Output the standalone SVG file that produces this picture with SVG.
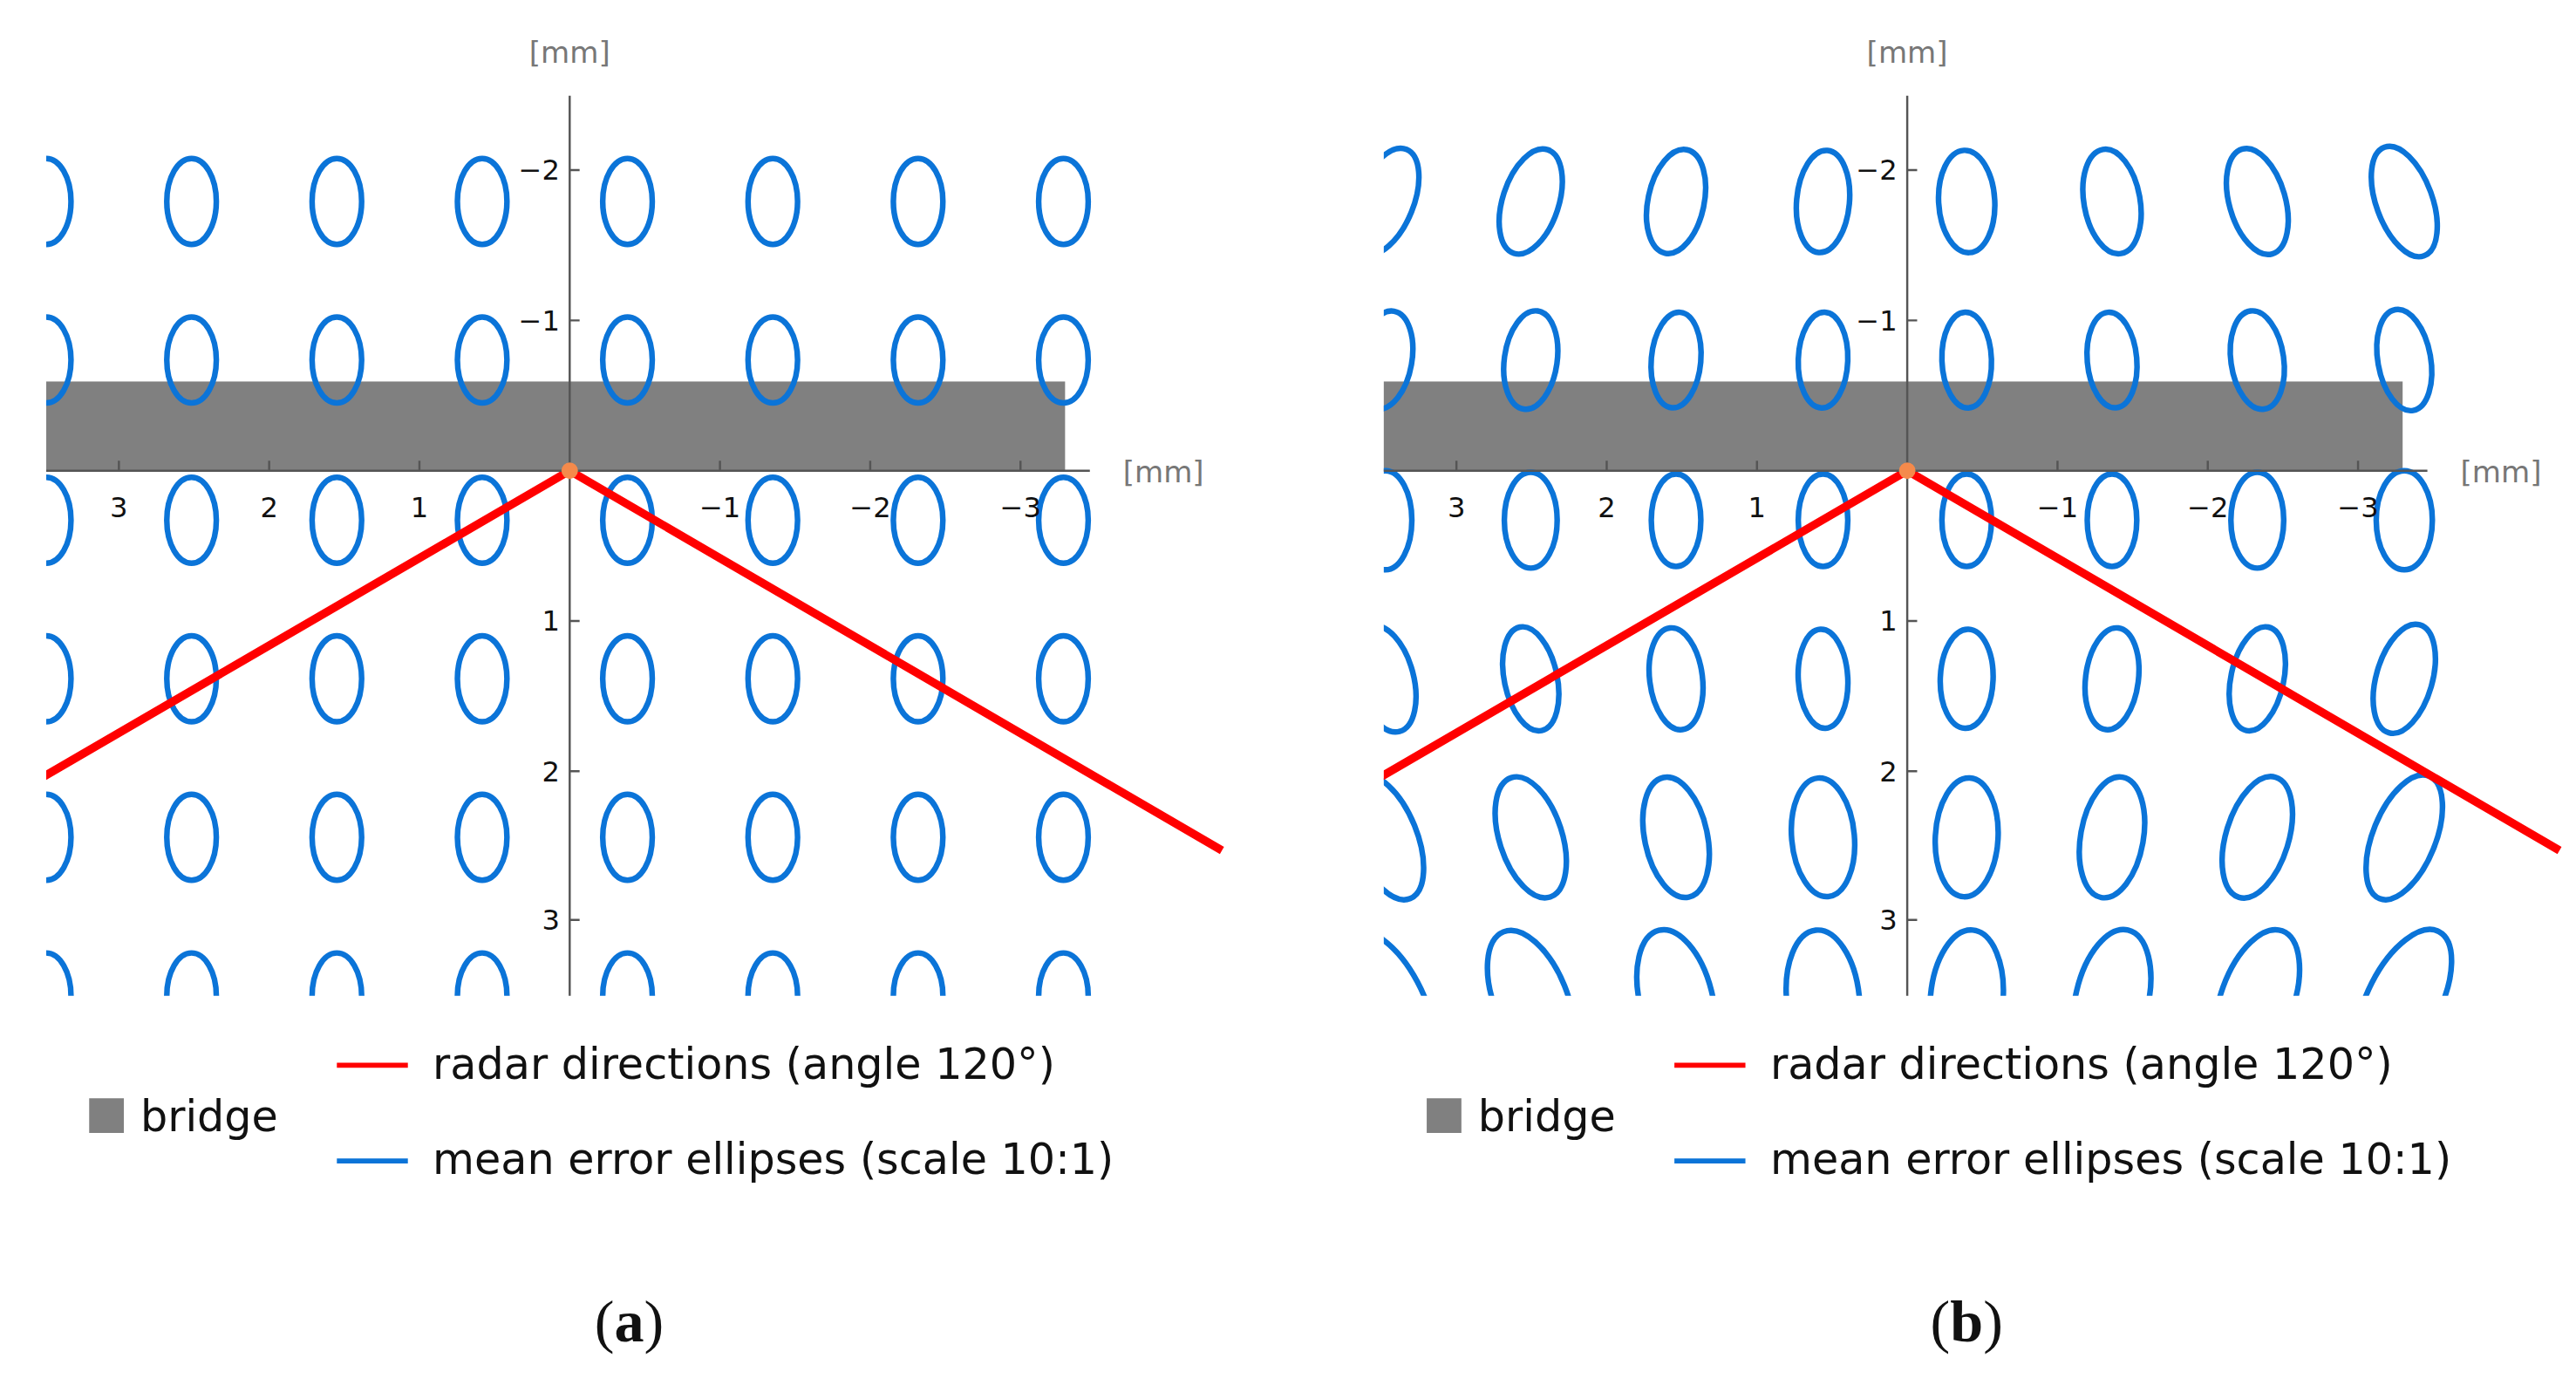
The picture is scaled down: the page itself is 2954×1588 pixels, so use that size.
<svg xmlns="http://www.w3.org/2000/svg" width="2954" height="1588" viewBox="0 0 2954 1588">
<style>
.e{fill:none;stroke:#0b74d8;stroke-width:3.4}
.ax{stroke:#555;stroke-width:1.3;fill:none}
.tk{font-family:"DejaVu Sans",sans-serif;font-size:17px;fill:#111}
.un{font-family:"DejaVu Sans",sans-serif;font-size:18px;fill:#777}
.lg{font-family:"DejaVu Sans",sans-serif;font-size:26px;fill:#111}
.cap{font-family:"Liberation Serif",serif;font-size:36px;fill:#111}
.rd{stroke:#ff0000;stroke-width:5;fill:none}
</style>
<defs>
<clipPath id="ca"><rect x="28" y="58" width="800" height="545"/></clipPath>
<clipPath id="cb"><rect x="838" y="58" width="800" height="545"/></clipPath>
</defs>
<rect width="2954" height="1588" fill="#fff"/>
<g transform="scale(1.8936)">
<g id="panel-a">
<rect x="28" y="231" width="617" height="54" fill="#808080"/>
<g clip-path="url(#ca)">
<g id="ellipses-a">
<g transform="translate(0,122)"><ellipse class="e" cx="28" cy="0" rx="15" ry="26"/><ellipse class="e" cx="116" cy="0" rx="15" ry="26"/><ellipse class="e" cx="204" cy="0" rx="15" ry="26"/><ellipse class="e" cx="292" cy="0" rx="15" ry="26"/><ellipse class="e" cx="380" cy="0" rx="15" ry="26"/><ellipse class="e" cx="468" cy="0" rx="15" ry="26"/><ellipse class="e" cx="556" cy="0" rx="15" ry="26"/><ellipse class="e" cx="644" cy="0" rx="15" ry="26"/></g>
<g transform="translate(0,218)"><ellipse class="e" cx="28" cy="0" rx="15" ry="26"/><ellipse class="e" cx="116" cy="0" rx="15" ry="26"/><ellipse class="e" cx="204" cy="0" rx="15" ry="26"/><ellipse class="e" cx="292" cy="0" rx="15" ry="26"/><ellipse class="e" cx="380" cy="0" rx="15" ry="26"/><ellipse class="e" cx="468" cy="0" rx="15" ry="26"/><ellipse class="e" cx="556" cy="0" rx="15" ry="26"/><ellipse class="e" cx="644" cy="0" rx="15" ry="26"/></g>
<g transform="translate(0,315)"><ellipse class="e" cx="28" cy="0" rx="15" ry="26"/><ellipse class="e" cx="116" cy="0" rx="15" ry="26"/><ellipse class="e" cx="204" cy="0" rx="15" ry="26"/><ellipse class="e" cx="292" cy="0" rx="15" ry="26"/><ellipse class="e" cx="380" cy="0" rx="15" ry="26"/><ellipse class="e" cx="468" cy="0" rx="15" ry="26"/><ellipse class="e" cx="556" cy="0" rx="15" ry="26"/><ellipse class="e" cx="644" cy="0" rx="15" ry="26"/></g>
<g transform="translate(0,411)"><ellipse class="e" cx="28" cy="0" rx="15" ry="26"/><ellipse class="e" cx="116" cy="0" rx="15" ry="26"/><ellipse class="e" cx="204" cy="0" rx="15" ry="26"/><ellipse class="e" cx="292" cy="0" rx="15" ry="26"/><ellipse class="e" cx="380" cy="0" rx="15" ry="26"/><ellipse class="e" cx="468" cy="0" rx="15" ry="26"/><ellipse class="e" cx="556" cy="0" rx="15" ry="26"/><ellipse class="e" cx="644" cy="0" rx="15" ry="26"/></g>
<g transform="translate(0,507)"><ellipse class="e" cx="28" cy="0" rx="15" ry="26"/><ellipse class="e" cx="116" cy="0" rx="15" ry="26"/><ellipse class="e" cx="204" cy="0" rx="15" ry="26"/><ellipse class="e" cx="292" cy="0" rx="15" ry="26"/><ellipse class="e" cx="380" cy="0" rx="15" ry="26"/><ellipse class="e" cx="468" cy="0" rx="15" ry="26"/><ellipse class="e" cx="556" cy="0" rx="15" ry="26"/><ellipse class="e" cx="644" cy="0" rx="15" ry="26"/></g>
<g transform="translate(0,603)"><ellipse class="e" cx="28" cy="0" rx="15" ry="26"/><ellipse class="e" cx="116" cy="0" rx="15" ry="26"/><ellipse class="e" cx="204" cy="0" rx="15" ry="26"/><ellipse class="e" cx="292" cy="0" rx="15" ry="26"/><ellipse class="e" cx="380" cy="0" rx="15" ry="26"/><ellipse class="e" cx="468" cy="0" rx="15" ry="26"/><ellipse class="e" cx="556" cy="0" rx="15" ry="26"/><ellipse class="e" cx="644" cy="0" rx="15" ry="26"/></g>
</g>
<path class="rd" d="M20,474 L345,285 L740,515"/>
</g>
<path class="ax" d="M345,58 V603 M28,285 H660 M72,285 v-6 M163,285 v-6 M254,285 v-6 M436,285 v-6 M527,285 v-6 M618,285 v-6 M345,103 h6 M345,194 h6 M345,376 h6 M345,467 h6 M345,557 h6"/>
<circle cx="345" cy="285" r="5" fill="#f58a4b"/>
<g class="tk" text-anchor="middle"><text x="72" y="313">3</text><text x="163" y="313">2</text><text x="254" y="313">1</text><text x="436" y="313">−1</text><text x="527" y="313">−2</text><text x="618" y="313">−3</text></g>
<g class="tk" text-anchor="end"><text x="339" y="109">−2</text><text x="339" y="200">−1</text><text x="339" y="382">1</text><text x="339" y="473">2</text><text x="339" y="563">3</text></g>
<text class="un" x="345" y="38" text-anchor="middle">[mm]</text>
<text class="un" x="680" y="292">[mm]</text>
<g id="legend-a">
<rect x="54" y="665" width="21" height="21" fill="#808080"/>
<text class="lg" x="85" y="685">bridge</text>
<line x1="204" y1="645" x2="247" y2="645" stroke="#ff0000" stroke-width="3"/>
<text class="lg" x="262" y="653">radar directions (angle 120°)</text>
<line x1="204" y1="703" x2="247" y2="703" stroke="#0b74d8" stroke-width="3"/>
<text class="lg" x="262" y="711">mean error ellipses (scale 10:1)</text>
</g>
<text class="cap" x="381" y="812" text-anchor="middle">(<tspan font-weight="bold">a</tspan>)</text>
</g>
<g id="panel-b">
<rect x="838" y="231" width="617" height="54" fill="#808080"/>
<g clip-path="url(#cb)">
<g id="ellipses-b">
<g transform="translate(0,122)"><ellipse class="e" transform="translate(839,0) rotate(22)" rx="17" ry="34"/><ellipse class="e" transform="translate(927,0) rotate(18)" rx="17" ry="33"/><ellipse class="e" transform="translate(1015,0) rotate(12)" rx="17" ry="32"/><ellipse class="e" transform="translate(1104,0) rotate(5)" rx="16" ry="31"/><ellipse class="e" transform="translate(1191,0) rotate(-3)" rx="17" ry="31"/><ellipse class="e" transform="translate(1279,0) rotate(-10)" rx="17" ry="32"/><ellipse class="e" transform="translate(1367,0) rotate(-16)" rx="17" ry="33"/><ellipse class="e" transform="translate(1456,0) rotate(-20)" rx="17" ry="35"/></g>
<g transform="translate(0,218)"><ellipse class="e" transform="translate(839,0) rotate(10)" rx="16" ry="30"/><ellipse class="e" transform="translate(927,0) rotate(8)" rx="16" ry="30"/><ellipse class="e" transform="translate(1015,0) rotate(5)" rx="15" ry="29"/><ellipse class="e" transform="translate(1104,0) rotate(2)" rx="15" ry="29"/><ellipse class="e" transform="translate(1191,0) rotate(-2)" rx="15" ry="29"/><ellipse class="e" transform="translate(1279,0) rotate(-5)" rx="15" ry="29"/><ellipse class="e" transform="translate(1367,0) rotate(-8)" rx="16" ry="30"/><ellipse class="e" transform="translate(1456,0) rotate(-10)" rx="16" ry="31"/></g>
<g transform="translate(0,315)"><ellipse class="e" transform="translate(839,0) rotate(0)" rx="16" ry="30"/><ellipse class="e" transform="translate(927,0)" rx="16" ry="29"/><ellipse class="e" transform="translate(1015,0)" rx="15" ry="28"/><ellipse class="e" transform="translate(1104,0)" rx="15" ry="28"/><ellipse class="e" transform="translate(1191,0)" rx="15" ry="28"/><ellipse class="e" transform="translate(1279,0)" rx="15" ry="28"/><ellipse class="e" transform="translate(1367,0)" rx="16" ry="29"/><ellipse class="e" transform="translate(1456,0)" rx="17" ry="30"/></g>
<g transform="translate(0,411)"><ellipse class="e" transform="translate(839,0) rotate(-15)" rx="17" ry="33"/><ellipse class="e" transform="translate(927,0) rotate(-12)" rx="16" ry="32"/><ellipse class="e" transform="translate(1015,0) rotate(-7)" rx="16" ry="31"/><ellipse class="e" transform="translate(1104,0) rotate(-3)" rx="15" ry="30"/><ellipse class="e" transform="translate(1191,0) rotate(2)" rx="16" ry="30"/><ellipse class="e" transform="translate(1279,0) rotate(7)" rx="16" ry="31"/><ellipse class="e" transform="translate(1367,0) rotate(12)" rx="16" ry="32"/><ellipse class="e" transform="translate(1456,0) rotate(16)" rx="17" ry="34"/></g>
<g transform="translate(0,507)"><ellipse class="e" transform="translate(839,0) rotate(-22)" rx="19" ry="40"/><ellipse class="e" transform="translate(927,0) rotate(-18)" rx="19" ry="38"/><ellipse class="e" transform="translate(1015,0) rotate(-12)" rx="19" ry="37"/><ellipse class="e" transform="translate(1104,0) rotate(-5)" rx="19" ry="36"/><ellipse class="e" transform="translate(1191,0) rotate(3)" rx="19" ry="36"/><ellipse class="e" transform="translate(1279,0) rotate(10)" rx="19" ry="37"/><ellipse class="e" transform="translate(1367,0) rotate(17)" rx="19" ry="38"/><ellipse class="e" transform="translate(1456,0) rotate(22)" rx="19" ry="40"/></g>
<g transform="translate(0,605)"><ellipse class="e" transform="translate(839,0) rotate(-28)" rx="22" ry="46"/><ellipse class="e" transform="translate(927,0) rotate(-22)" rx="22" ry="44"/><ellipse class="e" transform="translate(1015,0) rotate(-14)" rx="22" ry="43"/><ellipse class="e" transform="translate(1104,0) rotate(-6)" rx="22" ry="42"/><ellipse class="e" transform="translate(1191,0) rotate(5)" rx="22" ry="42"/><ellipse class="e" transform="translate(1279,0) rotate(13)" rx="22" ry="43"/><ellipse class="e" transform="translate(1367,0) rotate(20)" rx="22" ry="44"/><ellipse class="e" transform="translate(1456,0) rotate(27)" rx="22" ry="46"/></g>
</g>
<path class="rd" d="M830,474 L1155,285 L1550,515"/>
</g>
<path class="ax" d="M1155,58 V603 M838,285 H1470 M882,285 v-6 M973,285 v-6 M1064,285 v-6 M1246,285 v-6 M1337,285 v-6 M1428,285 v-6 M1155,103 h6 M1155,194 h6 M1155,376 h6 M1155,467 h6 M1155,557 h6"/>
<circle cx="1155" cy="285" r="5" fill="#f58a4b"/>
<g class="tk" text-anchor="middle"><text x="882" y="313">3</text><text x="973" y="313">2</text><text x="1064" y="313">1</text><text x="1246" y="313">−1</text><text x="1337" y="313">−2</text><text x="1428" y="313">−3</text></g>
<g class="tk" text-anchor="end"><text x="1149" y="109">−2</text><text x="1149" y="200">−1</text><text x="1149" y="382">1</text><text x="1149" y="473">2</text><text x="1149" y="563">3</text></g>
<text class="un" x="1155" y="38" text-anchor="middle">[mm]</text>
<text class="un" x="1490" y="292">[mm]</text>
<g id="legend-b">
<rect x="864" y="665" width="21" height="21" fill="#808080"/>
<text class="lg" x="895" y="685">bridge</text>
<line x1="1014" y1="645" x2="1057" y2="645" stroke="#ff0000" stroke-width="3"/>
<text class="lg" x="1072" y="653">radar directions (angle 120°)</text>
<line x1="1014" y1="703" x2="1057" y2="703" stroke="#0b74d8" stroke-width="3"/>
<text class="lg" x="1072" y="711">mean error ellipses (scale 10:1)</text>
</g>
<text class="cap" x="1191" y="812" text-anchor="middle">(<tspan font-weight="bold">b</tspan>)</text>
</g>
</g>
</svg>
